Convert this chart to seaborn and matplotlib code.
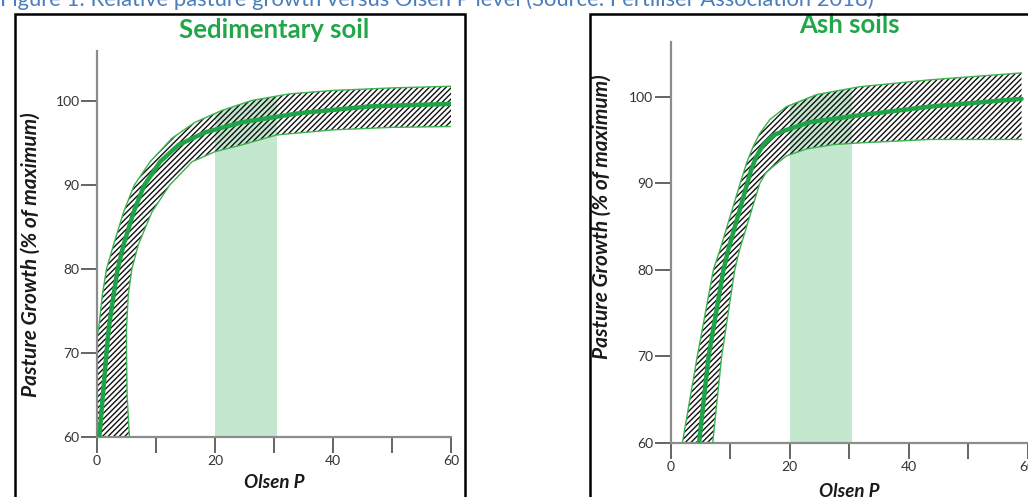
"""
Relative pasture growth vs Olsen P, sedimentary and ash soils.
"""

import matplotlib
matplotlib.use("Agg")
import matplotlib.pyplot as plt
from matplotlib.patches import Polygon, Rectangle
import seaborn as sns

# --- values --------------------------------------------------------------
# Sedimentary soil
sed_upper_x = [0, 0, 0.3, 0.9, 1.6, 2.8, 4.5, 6.3, 9.0, 12.7, 16.6, 21.1, 26.2, 32.7, 40, 50, 60]
sed_upper_y = [60, 72, 73, 76.9, 80, 82.9, 86.8, 90, 92.8, 95.6, 97.5, 98.9, 100.1, 100.9, 101.3, 101.6, 101.8]
sed_mid_x = [0.4, 1.0, 1.6, 2.0, 2.8, 3.5, 4.5, 6.2, 8.0, 10.7, 13.8, 18.3, 24.5, 34.4, 46.3, 60]
sed_mid_y = [60, 65, 70, 73, 76.9, 80, 82.9, 86.8, 90, 92.8, 94.8, 96.3, 97.5, 98.6, 99.4, 99.7]
sed_low_x = [5.5, 5.1, 5.0, 5.0, 5.3, 5.9, 7.0, 9.3, 12.3, 16.1, 20.0, 24.5, 30.5, 40, 50, 60]
sed_low_y = [60, 65, 70, 72.9, 76.9, 80, 82.9, 86.8, 90, 92.8, 94.0, 94.8, 96.0, 96.6, 96.9, 97.0]

# Ash soils
ash_upper_x = [2.0, 4.5, 7.2, 8.3, 11.7, 12.8, 13.9, 15.0, 16.7, 19.5, 24.6, 31.8, 43.6, 59]
ash_upper_y = [60, 70, 80, 82.3, 90, 92.4, 94.3, 95.8, 97.4, 98.9, 100.3, 101.2, 102.0, 102.8]
ash_mid_x = [4.8, 6.4, 8.9, 9.7, 12.9, 13.6, 14.5, 15.6, 17.3, 19.5, 23.4, 31.8, 43.6, 59]
ash_mid_y = [60, 70, 80, 82.3, 90, 91.7, 93.2, 94.5, 95.6, 96.2, 97.1, 97.9, 98.9, 99.8]
ash_low_x = [7.1, 8.6, 10.8, 11.6, 15.0, 16.0, 17.3, 19.5, 22.9, 27.4, 31.8, 43.6, 59]
ash_low_y = [60, 70, 80, 82.3, 90, 91.2, 92.0, 93.2, 94.0, 94.5, 94.7, 95.1, 95.1]

# optimum Olsen P range (shaded)
optimum = (20, 30.5)

x_ticks = [0, 10, 20, 30, 40, 50, 60]
x_tick_labels = ["0", "", "20", "", "40", "", "60"]
y_ticks = [60, 70, 80, 90, 100]

GREEN = "#1fa347"
EDGE_GREEN = "#3bb34f"
BAND = "#c4e7cf"
TITLE_GREEN = "#22a64a"

sns.set_theme(style="white")
plt.rcParams["font.family"] = ["Lato", "DejaVu Sans"]
plt.rcParams["hatch.linewidth"] = 1.0


def draw_panel(ax, ux, uy, mx, my, lx, ly, title, ytop, title_y):
    ax.set_xlim(0, 60)
    ax.set_ylim(60, ytop)

    # green "optimum" band, clipped under the upper envelope
    clip = Polygon(list(zip(ux, uy)) + [(ux[-1], 60)], closed=True,
                   transform=ax.transData, facecolor="none", edgecolor="none")
    band = ax.axvspan(optimum[0], optimum[1], color=BAND, lw=0, zorder=1)
    band.set_clip_path(clip)

    # hatched envelope
    xs = list(ux) + list(lx)[::-1]
    ys = list(uy) + list(ly)[::-1]
    ax.fill(xs, ys, facecolor="none", edgecolor="#111111", hatch="//////",
            linewidth=0, zorder=2)

    start = 1 if ux[0] == ux[1] else 0
    sns.lineplot(x=ux[start:], y=uy[start:], sort=False, estimator=None,
                 color=EDGE_GREEN, lw=1.0, ax=ax, zorder=3)
    sns.lineplot(x=lx, y=ly, sort=False, estimator=None,
                 color=EDGE_GREEN, lw=1.0, ax=ax, zorder=3)
    sns.lineplot(x=mx, y=my, sort=False, estimator=None,
                 color=GREEN, lw=3.2, ax=ax, zorder=4)

    sns.despine(ax=ax)
    for side in ["left", "bottom"]:
        ax.spines[side].set_color("#8c8c8c")
        ax.spines[side].set_linewidth(1.6)

    ax.set_xticks(x_ticks)
    ax.set_xticklabels(x_tick_labels)
    ax.set_yticks(y_ticks)
    ax.tick_params(axis="both", direction="out", length=11.5, width=1.1,
                   bottom=True, left=True,
                   color="#3a3a3a", labelsize=10, labelcolor="#333333", pad=1.5)
    ax.tick_params(axis="y", pad=1)

    ax.set_xlabel("Olsen P", fontsize=13.5, fontweight="bold",
                  fontstyle="italic", color="#1a1a1a")
    ax.set_ylabel("Pasture Growth (% of maximum)", fontsize=15,
                  fontweight="bold", fontstyle="italic", color="#1a1a1a")
    ax.grid(False)
    ax.set_facecolor("none")
    ax.text(0.5, title_y, title, transform=ax.transAxes, ha="center",
            va="center", fontsize=18.5, fontweight="bold", color=TITLE_GREEN)


W, H = 1028, 497
fig = plt.figure(figsize=(W / 100, H / 100), dpi=100)

ax1 = fig.add_axes([97 / W, (H - 437) / H, 354 / W, 386 / H])
ax2 = fig.add_axes([670.5 / W, (H - 442.7) / H, 357 / W, 400.9 / H])

draw_panel(ax1, sed_upper_x, sed_upper_y, sed_mid_x, sed_mid_y,
           sed_low_x, sed_low_y, "Sedimentary soil", 106, (437 - 30) / 386)
draw_panel(ax2, ash_upper_x, ash_upper_y, ash_mid_x, ash_mid_y,
           ash_low_x, ash_low_y, "Ash soils", 106.4, (442.7 - 25) / 400.9)

ax1.yaxis.set_label_coords(-0.158, 0.473)
ax1.xaxis.set_label_coords(0.5, -0.096)
ax2.yaxis.set_label_coords(-0.166, 0.563)
ax2.xaxis.set_label_coords(0.5, -0.10)

# panel frames
fig.add_artist(Rectangle((14.5 / W, -0.2), 450 / W, 1.2 - 13.5 / H,
                         transform=fig.transFigure, fill=False,
                         edgecolor="black", lw=1.8))
fig.add_artist(Rectangle((589.5 / W, -0.2), 0.6, 1.2 - 13.5 / H,
                         transform=fig.transFigure, fill=False,
                         edgecolor="black", lw=1.8))

# document caption, cut off at the top edge like the source screenshot
fig.text(0, 1 - 6 / H, "Figure 1: Relative pasture growth versus Olsen P level "
         "(Source: Fertiliser Association 2018)", fontsize=15.8,
         color="#4a7ebb", va="baseline", ha="left")

fig.savefig("out.png", dpi=100)
